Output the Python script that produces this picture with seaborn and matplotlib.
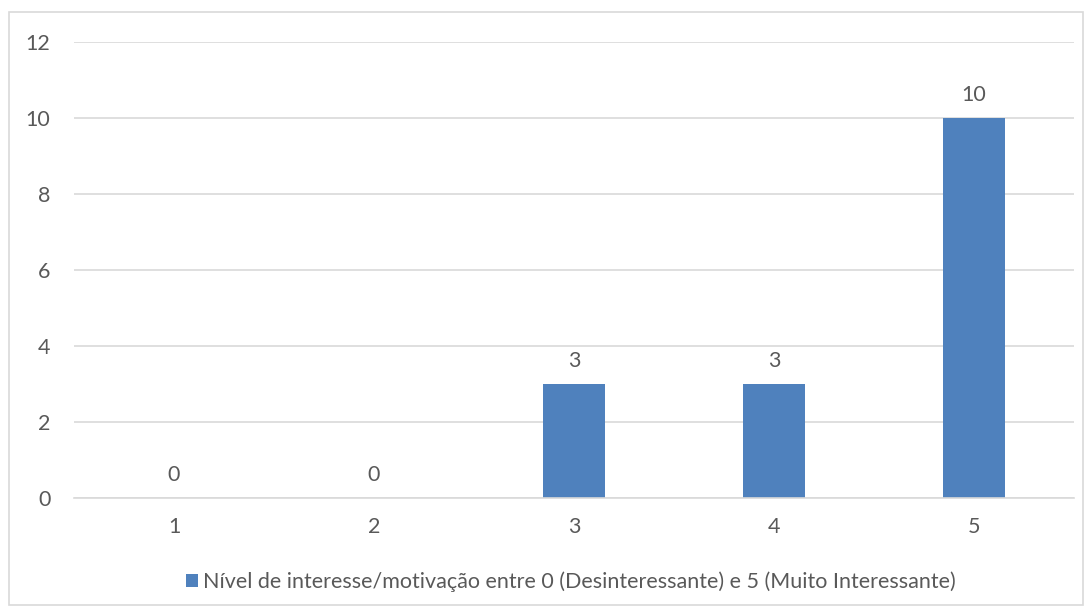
import matplotlib
matplotlib.use("Agg")
import matplotlib.pyplot as plt
import seaborn as sns
import pandas as pd
from matplotlib.patches import Rectangle

categories = ["1", "2", "3", "4", "5"]
values = [0, 0, 3, 3, 10]
series_name = "Nível de interesse/motivação entre 0 (Desinteressante) e 5 (Muito Interessante)"
y_ticks = [0, 2, 4, 6, 8, 10, 12]

df = pd.DataFrame({"nivel": categories, "respostas": values})

sns.set_style("white")
plt.rcParams["font.family"] = ["Lato", "DejaVu Sans"]

text_color = "#595959"
grid_color = "#D9D9D9"
bar_color = "#4F81BD"
fsize = 15.5

fig = plt.figure(figsize=(10.92, 6.14), dpi=100)
ax = fig.add_axes([74 / 1092, 1 - 498 / 614, 1000 / 1092, 456 / 614])

sns.barplot(data=df, x="nivel", y="respostas", color=bar_color, width=0.31,
            saturation=1, linewidth=0, ax=ax, label=series_name)

ax.set_xlim(-0.5, 4.5)
ax.set_ylim(0, 12)
ax.set_yticks(y_ticks)
ax.yaxis.grid(True, color=grid_color, linewidth=1.2)
ax.set_axisbelow(True)
for s in ["top", "right", "left"]:
    ax.spines[s].set_visible(False)
ax.spines["bottom"].set_color(grid_color)
ax.spines["bottom"].set_linewidth(1.2)
ax.tick_params(axis="both", length=0, labelsize=fsize, colors=text_color)
ax.tick_params(axis="y", pad=17)
ax.tick_params(axis="x", pad=14)
ax.set_xlabel("")
ax.set_ylabel("")

for i, v in enumerate(values):
    ax.annotate(str(v), (i, v), xytext=(0, 12), textcoords="offset points",
                ha="center", va="baseline", fontsize=fsize, color=text_color)

leg = ax.legend(loc="center", bbox_to_anchor=(571 / 1092, 1 - 582 / 614),
                bbox_transform=fig.transFigure, frameon=False, fontsize=fsize,
                handlelength=0.55, handleheight=0.55, handletextpad=0.25)
for t in leg.get_texts():
    t.set_color(text_color)

fig.patches.append(Rectangle((9 / 1092, 1 - 605 / 614), 1074 / 1092, 593 / 614,
                             transform=fig.transFigure, fill=False,
                             edgecolor=grid_color, linewidth=1.2))

fig.savefig("out.png", dpi=100)
